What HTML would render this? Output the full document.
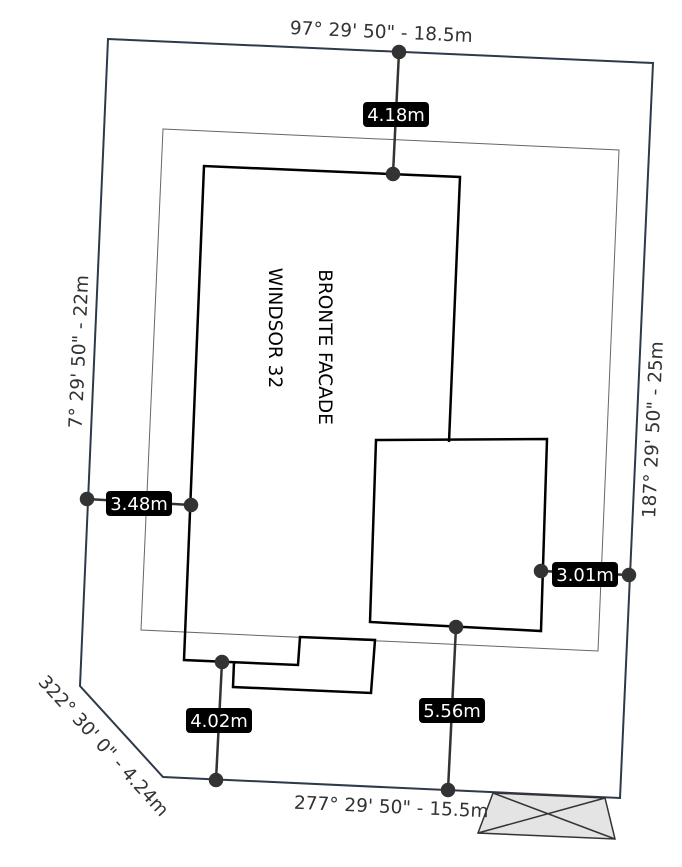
<!DOCTYPE html>
<html><head><meta charset="utf-8"><style>
html,body{margin:0;padding:0;background:#fff;width:682px;height:867px;overflow:hidden}
svg{display:block}
text{font-family:"DejaVu Sans","Liberation Sans",sans-serif}
</style></head><body>
<svg width="682" height="867" viewBox="0 0 682 867" xmlns="http://www.w3.org/2000/svg">
<polygon points="108,39 653,63 620,798 163,777 80,686" fill="none" stroke="#2d3a4a" stroke-width="2"/>
<polygon points="163,129 619,150 598,651 141,630" fill="none" stroke="#666" stroke-width="1"/>
<polygon points="493,793 605,798 615,839 478,833" fill="#e4e4e4" stroke="#333" stroke-width="1.5"/>
<line x1="493" y1="793" x2="615" y2="839" stroke="#333" stroke-width="1.5"/>
<line x1="605" y1="798" x2="478" y2="833" stroke="#333" stroke-width="1.5"/>
<g fill="none" stroke="#000" stroke-width="2.5">
<polyline points="449,442 460,177 204,166 184,660 298,665 300,637 375,640 371,693 233,687 234,662"/>
<polygon points="376,440 547,439 541,631 370,622"/>
</g>
<g stroke="#333" stroke-width="2.5" fill="#333">
<line x1="399" y1="52" x2="393" y2="174"/><circle cx="399" cy="52" r="6"/><circle cx="393" cy="174" r="6"/>
<line x1="87" y1="499" x2="191" y2="505"/><circle cx="87" cy="499" r="6"/><circle cx="191" cy="505" r="6"/>
<line x1="541" y1="571" x2="629" y2="575"/><circle cx="541" cy="571" r="6"/><circle cx="629" cy="575" r="6"/>
<line x1="222" y1="662" x2="216" y2="780"/><circle cx="222" cy="662" r="6"/><circle cx="216" cy="780" r="6"/>
<line x1="456" y1="627" x2="448" y2="790"/><circle cx="456" cy="627" r="6"/><circle cx="448" cy="790" r="6"/>
</g>
<g font-size="18" fill="#fff" text-anchor="middle">
<rect x="363" y="102" width="66" height="25" rx="4" fill="#000"/><text x="396" y="121">4.18m</text>
<rect x="106" y="491" width="66" height="25" rx="4" fill="#000"/><text x="139" y="510">3.48m</text>
<rect x="552" y="562" width="66" height="25" rx="4" fill="#000"/><text x="585" y="581">3.01m</text>
<rect x="186" y="708" width="66" height="25" rx="4" fill="#000"/><text x="219" y="727">4.02m</text>
<rect x="419" y="698" width="66" height="25" rx="4" fill="#000"/><text x="452" y="717">5.56m</text>
</g>
<g font-size="18.5" fill="#333" text-anchor="middle">
<text transform="translate(381,38) rotate(2.5)">97° 29' 50" - 18.5m</text>
<text transform="translate(85,352) rotate(-87.5)">7° 29' 50" - 22m</text>
<text transform="translate(659,430) rotate(-87.5)">187° 29' 50" - 25m</text>
<text transform="translate(391,813) rotate(2.5)">277° 29' 50" - 15.5m</text>
<text transform="translate(99,750) rotate(47.6)">322° 30' 0" - 4.24m</text>
</g>
<g font-size="18.5" fill="#000" text-anchor="middle">
<text transform="translate(319,347) rotate(90)">BRONTE FACADE</text>
<text transform="translate(269,328) rotate(90)">WINDSOR 32</text>
</g>
</svg>
</body></html>
